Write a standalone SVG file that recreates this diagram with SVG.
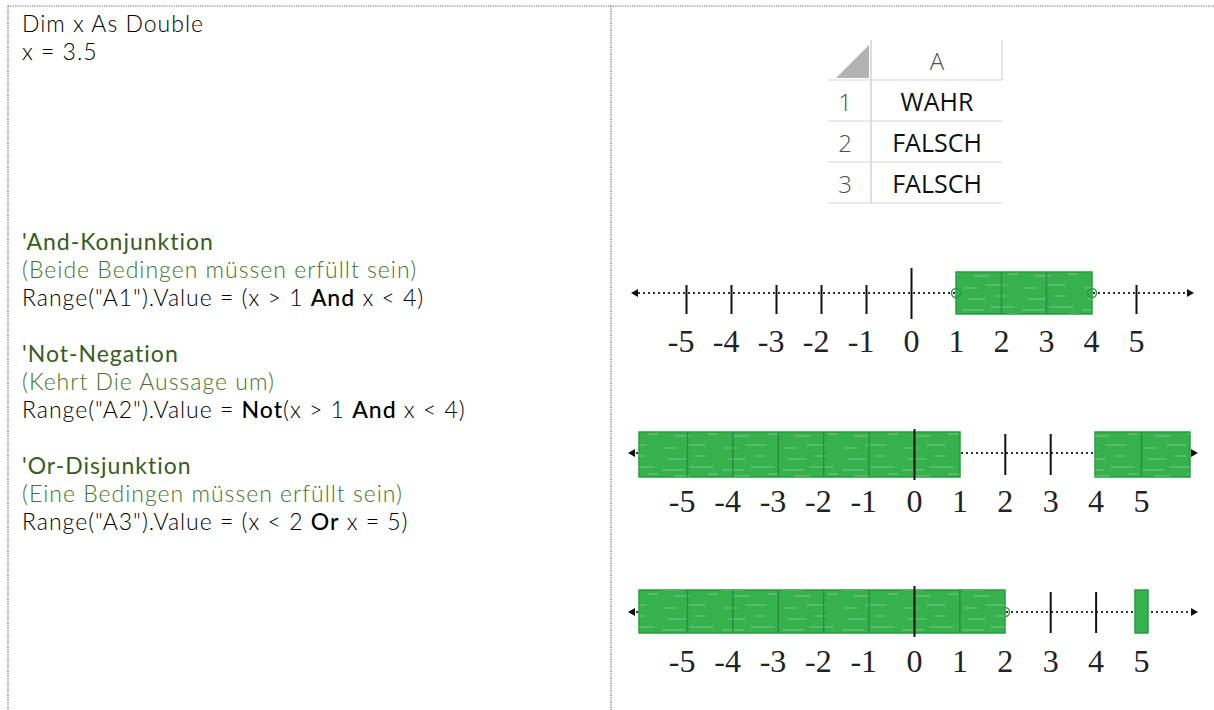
<svg xmlns="http://www.w3.org/2000/svg" width="1214" height="710" viewBox="0 0 1214 710">
<defs>
<pattern id="tex" width="60" height="40" patternUnits="userSpaceOnUse">
<path d="M4 8h14M26 5h20M8 19h18M34 16h12M2 30h22M30 27h24M14 36h16M48 34h10" stroke="#ffffff" stroke-opacity="0.2" stroke-width="1.3" fill="none"/>
</pattern>
</defs>
<style>
.frame{stroke:#666;stroke-width:1.2;stroke-dasharray:1.2 1.2;fill:none}
.t,.h,.s{font-family:Lato,"Open Sans","Liberation Sans",sans-serif;font-size:23px;letter-spacing:1px;font-variant-ligatures:none;font-feature-settings:"liga" 0}
.t{font-weight:300;fill:#000}
.b{font-weight:500;fill:#000}
.h{font-weight:400;fill:#385d20}
.s{font-weight:300;fill:#46732c}
.xl{font-family:"Open Sans","Liberation Sans",sans-serif;font-size:25px;fill:#111;text-anchor:middle}
.xn{font-family:"Open Sans","Liberation Sans",sans-serif;font-size:24px;fill:#505050;text-anchor:middle;font-weight:300}
.grid{stroke:#d6d6d6;stroke-width:1.2}
.axis{stroke:#333;stroke-width:2;stroke-dasharray:2 3}
.tick{stroke:#111;stroke-width:2}
.box{fill:#37b14e;stroke:#2a9a40;stroke-width:1.5}
.tex{fill:url(#tex);stroke:none}
.div{stroke:#27903b;stroke-width:1.5}
.oc{fill:none;stroke:#2a9a40;stroke-width:1.5}
.arr{fill:#111}
.lab{font-family:"Liberation Serif","DejaVu Serif",serif;font-size:32px;fill:#222;text-anchor:end}
</style>

<g id="frame">
<line class="frame" x1="8" y1="6" x2="1214" y2="6"/>
<line class="frame" x1="8" y1="6" x2="8" y2="710"/>
<line class="frame" x1="611" y1="6" x2="611" y2="710"/>
</g>

<g id="code">
<text class="t" x="22" y="32">Dim x As Double</text>
<text class="t" x="22" y="60">x = 3.5</text>
<text class="h" x="22" y="250">'And-Konjunktion</text>
<text class="s" x="22" y="278">(Beide Bedingen müssen erfüllt sein)</text>
<text class="t" x="22" y="306">Range("A1").Value = (x &gt; 1 <tspan class="b">And</tspan> x &lt; 4)</text>
<text class="h" x="22" y="362">'Not-Negation</text>
<text class="s" x="22" y="390">(Kehrt Die Aussage um)</text>
<text class="t" x="22" y="418">Range("A2").Value = <tspan class="b">Not</tspan>(x &gt; 1 <tspan class="b">And</tspan> x &lt; 4)</text>
<text class="h" x="22" y="474">'Or-Disjunktion</text>
<text class="s" x="22" y="502">(Eine Bedingen müssen erfüllt sein)</text>
<text class="t" x="22" y="530">Range("A3").Value = (x &lt; 2 <tspan class="b">Or</tspan> x = 5)</text>
</g>

<g id="excel">
<polygon points="836,78 869,78 869,45" fill="#b3b3b3"/>
<line class="grid" x1="871" y1="40" x2="871" y2="203" style="stroke:#c8c8c8"/>
<line class="grid" x1="1002" y1="40" x2="1002" y2="80"/>
<line class="grid" x1="828" y1="80" x2="1002" y2="80"/>
<line class="grid" x1="828" y1="121" x2="1002" y2="121"/>
<line class="grid" x1="828" y1="162" x2="1002" y2="162"/>
<line class="grid" x1="828" y1="203" x2="1002" y2="203"/>
<text class="xn" x="937" y="70">A</text>
<text class="xn" x="845" y="111">1</text>
<text class="xn" x="845" y="152">2</text>
<text class="xn" x="845" y="193">3</text>
<text class="xl" x="937" y="111">WAHR</text>
<text class="xl" x="937" y="152">FALSCH</text>
<text class="xl" x="937" y="193">FALSCH</text>
</g>

<g id="numberline-and">
<line class="axis" x1="638" y1="293" x2="1188" y2="293"/>
<polygon class="arr" points="631,293 638,289 638,297"/>
<polygon class="arr" points="1194,293 1187,289 1187,297"/>
<rect class="box" x="956" y="272" width="136" height="42"/>
<rect class="tex" x="956" y="272" width="136" height="42"/>
<line class="div" x1="1001.5" y1="272" x2="1001.5" y2="314"/>
<line class="div" x1="1046.5" y1="272" x2="1046.5" y2="314"/>
<circle class="oc" cx="956" cy="293" r="4.5"/>
<circle class="oc" cx="1092" cy="293" r="4.5"/>
<line class="tick" x1="686.5" y1="285" x2="686.5" y2="314"/>
<line class="tick" x1="731.5" y1="285" x2="731.5" y2="314"/>
<line class="tick" x1="776.5" y1="285" x2="776.5" y2="314"/>
<line class="tick" x1="821.5" y1="285" x2="821.5" y2="314"/>
<line class="tick" x1="866.5" y1="285" x2="866.5" y2="314"/>
<line class="tick" x1="911.5" y1="268" x2="911.5" y2="319"/>
<line class="tick" x1="1136.5" y1="285" x2="1136.5" y2="314"/>
<text class="lab" x="694.5" y="352">-5</text>
<text class="lab" x="739.5" y="352">-4</text>
<text class="lab" x="784.5" y="352">-3</text>
<text class="lab" x="829.5" y="352">-2</text>
<text class="lab" x="874.5" y="352">-1</text>
<text class="lab" x="919.5" y="352">0</text>
<text class="lab" x="964.5" y="352">1</text>
<text class="lab" x="1009.5" y="352">2</text>
<text class="lab" x="1054.5" y="352">3</text>
<text class="lab" x="1099.5" y="352">4</text>
<text class="lab" x="1144.5" y="352">5</text>
</g>

<g id="numberline-not">
<line class="axis" x1="636" y1="453" x2="1190" y2="453"/>
<polygon class="arr" points="628,453 635,449 635,457"/>
<polygon class="arr" points="1198,453 1191,449 1191,457"/>
<rect class="box" x="639" y="432" width="321" height="45"/>
<rect class="tex" x="639" y="432" width="321" height="45"/>
<rect class="box" x="1095" y="432" width="95" height="45"/>
<rect class="tex" x="1095" y="432" width="95" height="45"/>
<line class="div" x1="687.5" y1="432" x2="687.5" y2="477"/>
<line class="div" x1="732.9" y1="432" x2="732.9" y2="477"/>
<line class="div" x1="778.3" y1="432" x2="778.3" y2="477"/>
<line class="div" x1="823.7" y1="432" x2="823.7" y2="477"/>
<line class="div" x1="869.1" y1="432" x2="869.1" y2="477"/>
<line class="div" x1="1141.5" y1="432" x2="1141.5" y2="477"/>
<line class="tick" x1="914.5" y1="429" x2="914.5" y2="480"/>
<line class="tick" x1="1005.3" y1="434" x2="1005.3" y2="475"/>
<line class="tick" x1="1050.7" y1="434" x2="1050.7" y2="475"/>
<text class="lab" x="695.5" y="512">-5</text>
<text class="lab" x="740.9" y="512">-4</text>
<text class="lab" x="786.3" y="512">-3</text>
<text class="lab" x="831.7" y="512">-2</text>
<text class="lab" x="877.1" y="512">-1</text>
<text class="lab" x="922.5" y="512">0</text>
<text class="lab" x="967.9" y="512">1</text>
<text class="lab" x="1013.3" y="512">2</text>
<text class="lab" x="1058.7" y="512">3</text>
<text class="lab" x="1104.1" y="512">4</text>
<text class="lab" x="1149.5" y="512">5</text>
</g>

<g id="numberline-or">
<line class="axis" x1="636" y1="612" x2="1190" y2="612"/>
<polygon class="arr" points="628,612 635,608 635,616"/>
<polygon class="arr" points="1198,612 1191,608 1191,616"/>
<circle class="oc" cx="1005" cy="612" r="4.5"/>
<rect class="box" x="639" y="590" width="366" height="43"/>
<rect class="tex" x="639" y="590" width="366" height="43"/>
<rect class="box" x="1135" y="590" width="13" height="43"/>
<line class="div" x1="687.5" y1="590" x2="687.5" y2="633"/>
<line class="div" x1="732.9" y1="590" x2="732.9" y2="633"/>
<line class="div" x1="778.3" y1="590" x2="778.3" y2="633"/>
<line class="div" x1="823.7" y1="590" x2="823.7" y2="633"/>
<line class="div" x1="869.1" y1="590" x2="869.1" y2="633"/>
<line class="div" x1="959.9" y1="590" x2="959.9" y2="633"/>
<line class="tick" x1="914.5" y1="586" x2="914.5" y2="637"/>
<line class="tick" x1="1050.7" y1="592" x2="1050.7" y2="633"/>
<line class="tick" x1="1096.1" y1="592" x2="1096.1" y2="633"/>
<text class="lab" x="695.5" y="672">-5</text>
<text class="lab" x="740.9" y="672">-4</text>
<text class="lab" x="786.3" y="672">-3</text>
<text class="lab" x="831.7" y="672">-2</text>
<text class="lab" x="877.1" y="672">-1</text>
<text class="lab" x="922.5" y="672">0</text>
<text class="lab" x="967.9" y="672">1</text>
<text class="lab" x="1013.3" y="672">2</text>
<text class="lab" x="1058.7" y="672">3</text>
<text class="lab" x="1104.1" y="672">4</text>
<text class="lab" x="1149.5" y="672">5</text>
</g>
</svg>
